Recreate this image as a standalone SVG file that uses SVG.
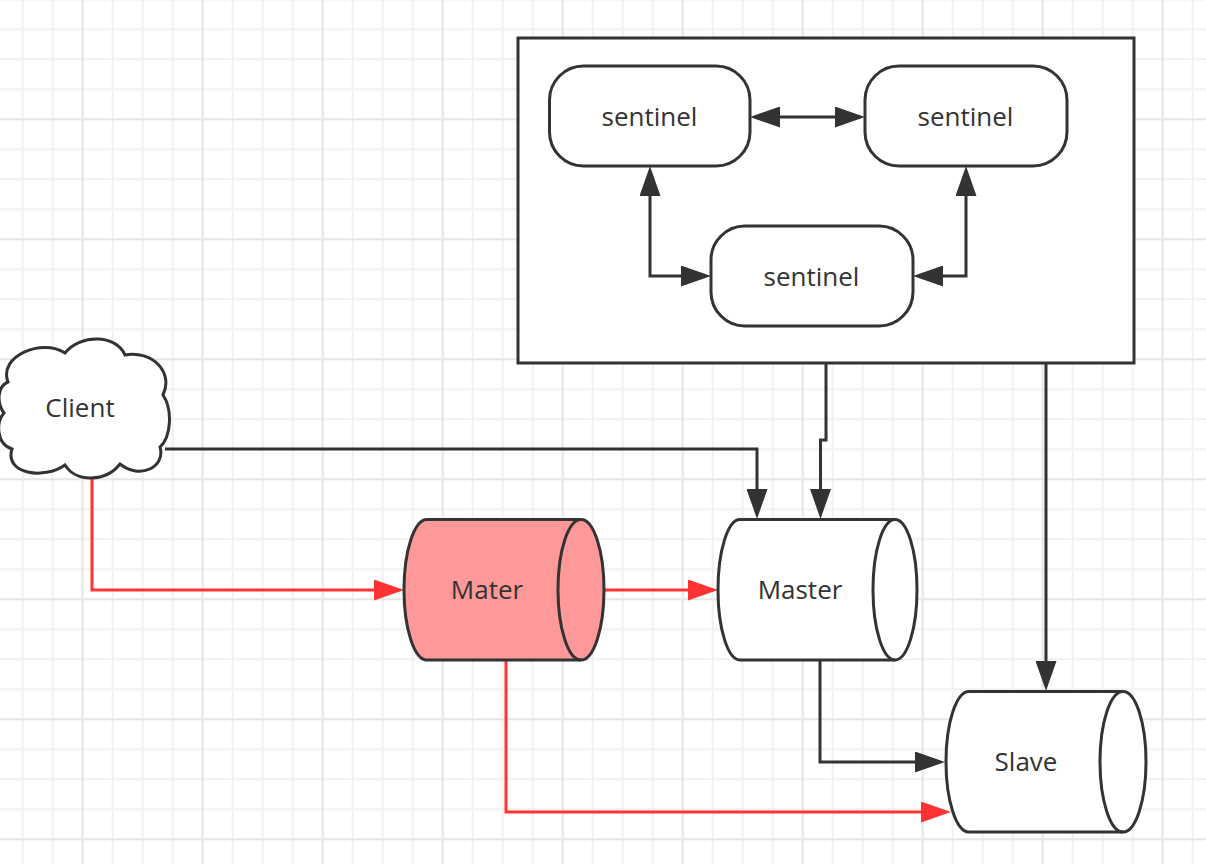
<svg xmlns="http://www.w3.org/2000/svg" width="1206" height="864" viewBox="0 0 1206 864">
<style>
.shape{fill:#ffffff;stroke:#333333;stroke-width:3}
.cyl{stroke:#333333;stroke-width:3}
.lbl{font-family:"Open Sans","Noto Sans","DejaVu Sans",sans-serif;font-size:26px;fill:#333333;text-anchor:middle}
.blk{fill:none;stroke:#333333;stroke-width:3}
.red{fill:none;stroke:#ff3333;stroke-width:3}
</style>
<defs>
<pattern id="grid" patternUnits="userSpaceOnUse" x="-38.3" y="-1.7" width="120" height="120">
<rect x="0" y="0" width="120" height="120" fill="#ffffff"/>
<rect x="30" y="0" width="2" height="120" fill="#f1f1f1"/>
<rect x="60" y="0" width="2" height="120" fill="#f1f1f1"/>
<rect x="90" y="0" width="2" height="120" fill="#f1f1f1"/>
<rect x="0" y="30" width="120" height="2" fill="#f1f1f1"/>
<rect x="0" y="60" width="120" height="2" fill="#f1f1f1"/>
<rect x="0" y="90" width="120" height="2" fill="#f1f1f1"/>
<rect x="0" y="0" width="2" height="120" fill="#e6e6e6"/>
<rect x="0" y="0" width="120" height="2" fill="#e6e6e6"/>
</pattern>
<marker id="ab" markerUnits="userSpaceOnUse" viewBox="0 0 30 21" refX="25" refY="10.5" markerWidth="30" markerHeight="21" orient="auto-start-reverse">
<path d="M0,0 L30,10.5 L0,21 Z" fill="#333333"/>
</marker>
<marker id="ar" markerUnits="userSpaceOnUse" viewBox="0 0 30 21" refX="25" refY="10.5" markerWidth="30" markerHeight="21" orient="auto-start-reverse">
<path d="M0,0 L30,10.5 L0,21 Z" fill="#ff3333"/>
</marker>
</defs>
<rect x="0" y="0" width="1206" height="864" fill="url(#grid)"/>

<g id="connectors">
<path class="blk" d="M165,449 H757 V514" marker-end="url(#ab)"/>
<path class="blk" d="M826,363 V440 H820.5 V514" marker-end="url(#ab)"/>
<path class="blk" d="M1046,363 V686" marker-end="url(#ab)"/>
<path class="blk" d="M820,660 V762 H940" marker-end="url(#ab)"/>
<path class="red" d="M92,477 V590 H399" marker-end="url(#ar)"/>
<path class="red" d="M604,590 H713" marker-end="url(#ar)"/>
<path class="red" d="M506,660 V812 H946" marker-end="url(#ar)"/>
</g>

<g id="sentinel-group">
<rect class="shape" x="518" y="38" width="616" height="325"/>
</g>

<g id="sentinel-connectors">
<path class="blk" d="M755,117 H860" marker-start="url(#ab)" marker-end="url(#ab)"/>
<path class="blk" d="M650,171 V276 H706" marker-start="url(#ab)" marker-end="url(#ab)"/>
<path class="blk" d="M966,171 V276 H918" marker-start="url(#ab)" marker-end="url(#ab)"/>
</g>

<g id="sentinel1">
<rect class="shape" x="549.5" y="66" width="200.5" height="100" rx="34" ry="34"/>
<text class="lbl" x="649.5" y="126">sentinel</text>
</g>
<g id="sentinel2">
<rect class="shape" x="865" y="66" width="202" height="100" rx="34" ry="34"/>
<text class="lbl" x="965.5" y="126">sentinel</text>
</g>
<g id="sentinel3">
<rect class="shape" x="711" y="226" width="202" height="100" rx="34" ry="34"/>
<text class="lbl" x="811.5" y="286">sentinel</text>
</g>

<g id="client">
<path class="shape" d="M8,382 C-2,356 42,338 65,353 C80,334 116,334 125,355 C152,350 174,372 163,395 C173,410 171,437 160,447 C166,467 140,480 120,464 C106,482 76,483 65,465 C44,480 4,474 12,449 C-4,444 -4,422 4,413 C-4,402 -2,386 8,382 Z"/>
<text class="lbl" x="80" y="417">Client</text>
</g>

<g id="mater">
<path class="cyl" fill="#ff9999" d="M427,519.5 H581 A23,70.25 0 0 1 581,660 H427 A23,70.25 0 0 1 427,519.5 Z"/>
<path class="cyl" fill="none" d="M581,519.5 A23,70.25 0 0 0 581,660"/>
<text class="lbl" x="487" y="599">Mater</text>
</g>

<g id="master">
<path class="cyl" fill="#ffffff" d="M740,519.5 H895 A22,70.25 0 0 1 895,660 H740 A22,70.25 0 0 1 740,519.5 Z"/>
<path class="cyl" fill="none" d="M895,519.5 A22,70.25 0 0 0 895,660"/>
<text class="lbl" x="800" y="599">Master</text>
</g>

<g id="slave">
<path class="cyl" fill="#ffffff" d="M969,691.5 H1123 A23,70.25 0 0 1 1123,832 H969 A23,70.25 0 0 1 969,691.5 Z"/>
<path class="cyl" fill="none" d="M1123,691.5 A23,70.25 0 0 0 1123,832"/>
<text class="lbl" x="1026" y="771">Slave</text>
</g>
</svg>
